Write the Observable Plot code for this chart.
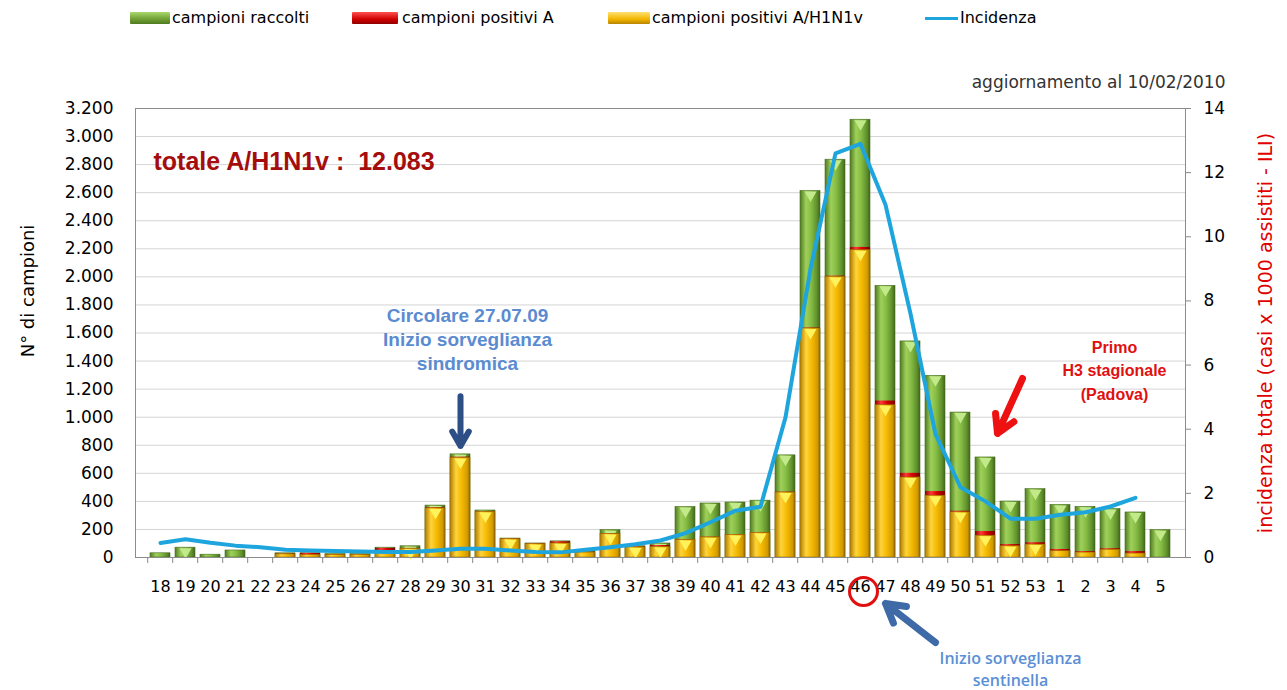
<!DOCTYPE html>
<html><head><meta charset="utf-8">
<script src="https://cdn.jsdelivr.net/npm/d3@7"></script>
<script src="https://cdn.jsdelivr.net/npm/@observablehq/plot@0.6"></script>
<style>
body{margin:0;background:#fff;font-family:"DejaVu Sans",sans-serif;}
#legend{position:relative;height:40px;width:1287px;}
.sw{position:absolute;top:12px;height:12px;border-radius:1px;}
.ln{position:absolute;top:17px;height:3px;width:33px;background:#1ea5dd;}
.lt{position:absolute;top:8px;font-size:16px;color:#000;white-space:nowrap;}
</style></head><body>
<div id="legend"></div>
<div id="chart"></div>
<script>
// ---- data ----
const weeks = ["18","19","20","21","22","23","24","25","26","27","28","29","30","31","32","33","34","35","36","37","38","39","40","41","42","43","44","45","46","47","48","49","50","51","52","53","1","2","3","4","5"];
const campioniRaccolti = [30,70,20,50,0,30,30,25,25,70,80,370,735,335,135,100,115,45,195,80,100,360,385,392,405,728,2612,2835,3120,1936,1540,1295,1033,713,399,487,375,361,345,321,195];
const positiviA = [0,0,0,0,0,25,30,20,20,65,65,355,715,328,132,98,112,38,170,75,85,126,145,162,176,466,1636,2005,2210,1115,600,470,330,185,92,105,57,42,62,42,0];
const positiviH1N1 = [0,0,0,0,0,22,18,18,18,40,62,350,710,325,130,95,100,35,167,72,75,124,143,160,174,463,1632,2000,2190,1085,570,440,322,155,80,92,45,35,55,28,0];
const incidenza = [0.45,0.57,0.46,0.37,0.32,0.24,0.22,0.2,0.19,0.17,0.17,0.22,0.27,0.27,0.22,0.17,0.16,0.24,0.32,0.41,0.53,0.76,1.1,1.46,1.58,4.37,9.0,12.6,12.9,11.0,7.6,3.85,2.19,1.75,1.21,1.21,1.33,1.41,1.59,1.86,null];
const leftTicks = [0,200,400,600,800,1000,1200,1400,1600,1800,2000,2200,2400,2600,2800,3000,3200];
const rightTicks = [0,2,4,6,8,10,12,14];
const legendLabels = ["campioni raccolti","campioni positivi A","campioni positivi A/H1N1v","Incidenza"];
const totaleLabel = "totale A/H1N1v :  12.083";
const updateLabel = "aggiornamento al 10/02/2010";
const circolareLabel = "Circolare 27.07.09\nInizio sorveglianza\nsindromica";
const h3Label = "Primo\nH3 stagionale\n(Padova)";
const sentinellaLabel = "Inizio sorveglianza\nsentinella";
const yLeftTitle = "N° di campioni";
const yRightTitle = "incidenza totale (casi x 1000 assistiti - ILI)";

// ---- legend ----
const leg = document.getElementById("legend");
const legendStyle = [
  {sw:"linear-gradient(#a9d86a,#6f9f34 60%,#4f7a20)", x:130, w:40, tx:172},
  {sw:"linear-gradient(#ff5050,#d00000 60%,#900000)", x:352, w:46, tx:402},
  {sw:"linear-gradient(#ffe070,#f2b600 60%,#b88400)", x:608, w:42, tx:652},
  {line:true, x:925, tx:960}
];
legendLabels.forEach((t,i)=>{
  const s = legendStyle[i];
  const sw = document.createElement("div");
  if (s.line) { sw.className="ln"; sw.style.left=s.x+"px"; }
  else { sw.className="sw"; sw.style.left=s.x+"px"; sw.style.width=s.w+"px"; sw.style.background=s.sw; }
  leg.appendChild(sw);
  const tx = document.createElement("div");
  tx.className="lt"; tx.style.left=s.tx+"px"; tx.textContent=t;
  leg.appendChild(tx);
});

// ---- chart ----
const k = 3200/14;
const fmt = d3.formatLocale({decimal:",", thousands:".", grouping:[3], currency:["",""]}).format(",d");
const rows = weeks.map((w,i)=>({week:w, tot:campioniRaccolti[i], a:positiviA[i], h:positiviH1N1[i], inc:incidenza[i]}));
const W = 1287, H = 650, mL = 135, mR = 102, mT = 68, mB = 133;
const bw = (W - mL - mR) / weeks.length;

const plot = Plot.plot({
  width: W, height: H,
  marginTop: mT, marginBottom: mB, marginLeft: mL, marginRight: mR,
  style: {fontFamily: "DejaVu Sans, sans-serif", fontSize: "16px", color: "#000", background: "#fff", overflow: "visible"},
  x: {domain: weeks, padding: 0.22, label: null},
  y: {domain: [0, 3200], label: null},
  marks: [
    Plot.gridY({ticks: leftTicks, stroke: "#d4d4d4", strokeOpacity: 1}),
    Plot.barY(rows, {x: "week", y: "tot", fill: "url(#gGreen)", stroke: "#4a6e22", strokeWidth: 0.6}),
    Plot.dot(rows.filter(d => d.tot > 60), {x: "week", y: "tot", dy: 4, symbol: "triangle", rotate: 180, r: 4.5, fill: "#c2e98a", stroke: "none"}),
    Plot.barY(rows, {x: "week", y: "a", fill: "url(#gRed)"}),
    Plot.barY(rows, {x: "week", y: "h", fill: "url(#gYellow)", stroke: "#9a7000", strokeWidth: 0.6}),
    Plot.dot(rows.filter(d => d.h > 60), {x: "week", y: "h", dy: 4, symbol: "triangle", rotate: 180, r: 4.5, fill: "#fff25a", stroke: "none"}),
    Plot.lineY(rows, {x: "week", y: d => d.inc == null ? NaN : d.inc * k, stroke: "#1ea5dd", strokeWidth: 4}),
    Plot.frame({stroke: "#8c8c8c"}),
    Plot.axisY({anchor: "left", ticks: leftTicks, tickSize: 0, tickPadding: 22, tickFormat: fmt, label: null, fontSize: 17}),
    Plot.axisY({anchor: "right", ticks: rightTicks.map(v => v * k), tickSize: 5, tickPadding: 13, tickFormat: d => Math.round(d / k), label: null, stroke: "#888", fontSize: 17}),
    Plot.axisX({tickSize: 0, tickPadding: 23, label: null}),
    Plot.axisX({tickSize: 6, tickFormat: () => "", dx: -bw/2, label: null, stroke: "#888"}),
    // axis titles
    Plot.text([yLeftTitle], {frameAnchor: "left", text: d => d, textAnchor: "middle", rotate: -90, dx: -107, dy: -42, fontSize: 18}),
    Plot.text([yRightTitle], {frameAnchor: "right", text: d => d, textAnchor: "middle", rotate: -90, dx: 80, fontSize: 19, fill: "#e00000"}),
    // annotations
    Plot.text([updateLabel], {frameAnchor: "top-right", text: d => d, textAnchor: "end", dx: 40, dy: -33, fontSize: 17, fill: "#333"}),
    Plot.text([totaleLabel], {frameAnchor: "top-left", text: d => d, textAnchor: "start", dx: 18, dy: 44, fontSize: 25, fontWeight: "bold", fill: "#a50d0d", fontFamily: "Liberation Sans, Arial, sans-serif"}),
    Plot.text([circolareLabel], {x: () => "30", y: () => 1560, dx: 7, text: d => d, lineHeight: 1.26, fontSize: 19, fontWeight: "bold", fill: "#5b8bd1", fontFamily: "Liberation Sans, Arial, sans-serif"}),
    Plot.arrow([0], {x1: () => "30", x2: () => "30", y1: () => 1150, y2: () => 795, stroke: "#2d4f86", strokeWidth: 6, headLength: 12}),
    Plot.text([h3Label], {x: () => "3", y: () => 1347, dx: 4, text: d => d, lineHeight: 1.47, fontSize: 16, fontWeight: "bold", fill: "#e01010", fontFamily: "Liberation Sans, Arial, sans-serif"}),
    Plot.arrow([0], {x1: () => "52", x2: () => "51", y1: () => 1276, y2: () => 884, dx: 12, stroke: "#ee1111", strokeWidth: 7, headLength: 14}),
    Plot.dot([0], {x: () => "46", y: () => -242, dx: 3, r: 14, stroke: "#e01010", strokeWidth: 3, fill: "none"}),
    Plot.arrow([0], {x1: () => "49", x2: () => "47", y1: () => -606, y2: () => -328, stroke: "#3e6aa8", strokeWidth: 7, headLength: 12}),
    Plot.text([sentinellaLabel], {x: () => "52", y: () => -790, text: d => d, lineHeight: 1.38, fontSize: 16, fontWeight: 600, fill: "#5b8fd6", fontFamily: "Open Sans, sans-serif"})
  ]
});

// gradients for the 3D-looking bars
const defs = d3.select(plot).insert("defs", ":first-child");
function grad(id, stops) {
  const g = defs.append("linearGradient").attr("id", id).attr("x1", 0).attr("x2", 1).attr("y1", 0).attr("y2", 0);
  stops.forEach(([o, c]) => g.append("stop").attr("offset", o).attr("stop-color", c));
}
grad("gGreen", [[0, "#4f7a22"], [0.3, "#9fd05a"], [0.55, "#86bd44"], [0.85, "#5f8f2c"], [1, "#3f6418"]]);
grad("gRed", [[0, "#8a0000"], [0.3, "#ff3a3a"], [0.6, "#d80000"], [1, "#7a0000"]]);
grad("gYellow", [[0, "#b07c00"], [0.3, "#ffd43a"], [0.6, "#f4b800"], [0.88, "#d09a00"], [1, "#8a6000"]]);

document.getElementById("chart").appendChild(plot);
</script>
</body></html>
